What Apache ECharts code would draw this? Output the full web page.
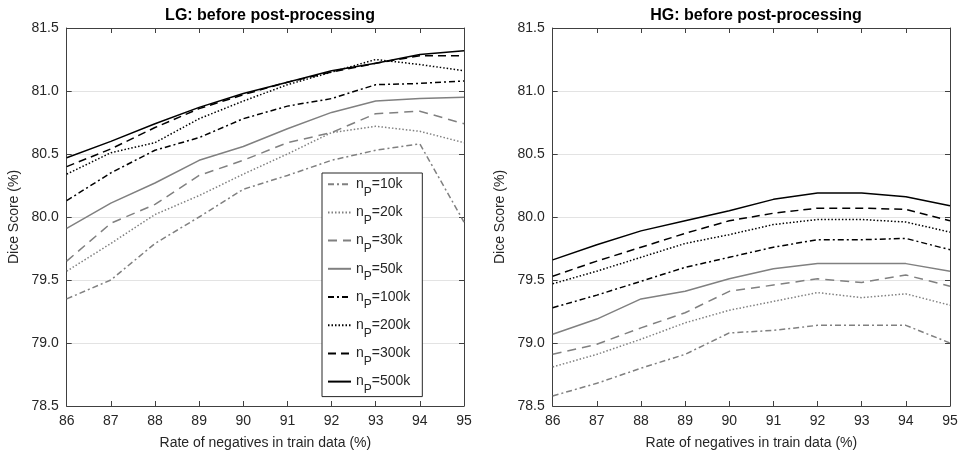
<!DOCTYPE html>
<html>
<head>
<meta charset="utf-8">
<script src="https://cdn.jsdelivr.net/npm/echarts@6/dist/echarts.min.js"></script>
<style>
html,body{margin:0;padding:0;background:#fff;}
#chart{width:967px;height:463px;}
</style>
</head>
<body>
<div id="chart"></div>
<script>
// ---- data ----
const rates = [86, 87, 88, 89, 90, 91, 92, 93, 94, 95];
const seriesNames = ['10k', '20k', '30k', '50k', '100k', '200k', '300k', '500k'];
const yTicks = [78.5, 79.0, 79.5, 80.0, 80.5, 81.0, 81.5];

const lg_10k  = [79.35, 79.50, 79.79, 80.00, 80.22, 80.33, 80.45, 80.53, 80.58, 79.96];
const lg_20k  = [79.57, 79.79, 80.02, 80.17, 80.34, 80.50, 80.67, 80.72, 80.68, 80.59];
const lg_30k  = [79.65, 79.95, 80.10, 80.33, 80.45, 80.59, 80.67, 80.82, 80.84, 80.74];
const lg_50k  = [79.91, 80.11, 80.27, 80.45, 80.56, 80.70, 80.83, 80.92, 80.94, 80.95];
const lg_100k = [80.13, 80.35, 80.53, 80.63, 80.78, 80.88, 80.94, 81.05, 81.06, 81.08];
const lg_200k = [80.34, 80.51, 80.59, 80.78, 80.92, 81.05, 81.15, 81.25, 81.21, 81.16];
const lg_300k = [80.40, 80.54, 80.71, 80.86, 80.97, 81.07, 81.15, 81.22, 81.28, 81.28];
const lg_500k = [80.47, 80.60, 80.74, 80.87, 80.98, 81.07, 81.16, 81.22, 81.29, 81.32];

const hg_10k  = [78.58, 78.68, 78.80, 78.91, 79.08, 79.10, 79.14, 79.14, 79.14, 79.00];
const hg_20k  = [78.81, 78.91, 79.03, 79.16, 79.26, 79.33, 79.40, 79.36, 79.39, 79.30];
const hg_30k  = [78.91, 78.99, 79.12, 79.24, 79.41, 79.46, 79.51, 79.48, 79.54, 79.45];
const hg_50k  = [79.07, 79.19, 79.35, 79.41, 79.51, 79.59, 79.63, 79.63, 79.63, 79.57];
const hg_100k = [79.28, 79.38, 79.49, 79.60, 79.68, 79.76, 79.82, 79.82, 79.83, 79.74];
const hg_200k = [79.47, 79.57, 79.68, 79.79, 79.86, 79.94, 79.98, 79.98, 79.96, 79.88];
const hg_300k = [79.53, 79.65, 79.76, 79.87, 79.97, 80.03, 80.07, 80.07, 80.06, 79.97];
const hg_500k = [79.66, 79.78, 79.89, 79.97, 80.05, 80.14, 80.19, 80.19, 80.16, 80.09];

const lgValues = [lg_10k, lg_20k, lg_30k, lg_50k, lg_100k, lg_200k, lg_300k, lg_500k];
const hgValues = [hg_10k, hg_20k, hg_30k, hg_50k, hg_100k, hg_200k, hg_300k, hg_500k];

// ---- styles ----
const GRAY = '#808080', BLACK = '#000000';
const styles = [
  {color: GRAY,  type: [6, 3, 2, 3]},
  {color: GRAY,  type: [1.5, 2]},
  {color: GRAY,  type: [9, 6]},
  {color: GRAY,  type: 'solid'},
  {color: BLACK, type: [6, 3, 2, 3]},
  {color: BLACK, type: [1.5, 2]},
  {color: BLACK, type: [8, 5]},
  {color: BLACK, type: 'solid'}
];

const FONT = "'Liberation Sans', Arial, Helvetica, sans-serif";
const AXC = '#404040';
const TXC = '#262626';

function xAxes(gridIndex) {
  const base = {
    type: 'value', gridIndex, min: 86, max: 95, interval: 1,
    axisLine: {show: true, onZero: false, lineStyle: {color: AXC, width: 1}},
    axisTick: {show: true, inside: true, length: 5, lineStyle: {color: AXC}},
    splitLine: {show: false}
  };
  return [
    Object.assign({}, base, {
      position: 'bottom',
      axisLabel: {show: true, color: TXC, fontSize: 14, fontFamily: FONT, margin: 8},
      name: 'Rate of negatives in train data (%)', nameLocation: 'middle', nameGap: 30,
      nameTextStyle: {color: TXC, fontSize: 14, fontFamily: FONT}
    }),
    Object.assign({}, base, {position: 'top', axisLabel: {show: false}})
  ];
}
function yAxes(gridIndex) {
  const base = {
    type: 'value', gridIndex, min: 78.5, max: 81.5, interval: 0.5,
    axisLine: {show: true, onZero: false, lineStyle: {color: AXC, width: 1}},
    axisTick: {show: true, inside: true, length: 5, lineStyle: {color: AXC}}
  };
  return [
    Object.assign({}, base, {
      position: 'left',
      splitLine: {show: true, lineStyle: {color: '#e3e3e3', width: 1}},
      axisLabel: {show: true, color: TXC, fontSize: 14, fontFamily: FONT, margin: 8,
        formatter: v => yTicks.find(t => Math.abs(t - v) < 1e-6) !== undefined ? v.toFixed(1) : ''},
      name: 'Dice Score (%)', nameLocation: 'middle', nameGap: 46, nameRotate: 90,
      nameTextStyle: {color: TXC, fontSize: 14, fontFamily: FONT}
    }),
    Object.assign({}, base, {position: 'right', splitLine: {show: false}, axisLabel: {show: false}})
  ];
}

function makeSeries(values, gi) {
  return values.map((vals, i) => ({
    name: seriesNames[i],
    type: 'line',
    xAxisIndex: gi * 2,
    yAxisIndex: gi * 2,
    data: rates.map((r, j) => [r, vals[j]]),
    symbol: 'none',
    smooth: false,
    lineStyle: {color: styles[i].color, type: styles[i].type, width: 1.5},
    itemStyle: {color: styles[i].color},
    z: 10 + i
  }));
}

const TITLE_STYLE = {fontSize: 16, fontWeight: 'bold', color: BLACK, fontFamily: FONT};

const option = {
  animation: false,
  backgroundColor: '#ffffff',
  title: [
    {text: 'LG: before post-processing', left: 265, top: 3, textAlign: 'center', textStyle: TITLE_STYLE},
    {text: 'HG: before post-processing', left: 751, top: 3, textAlign: 'center', textStyle: TITLE_STYLE}
  ],
  grid: [
    {left: 66.7, right: 503, top: 28, bottom: 57},
    {left: 552.7, right: 17, top: 28, bottom: 57}
  ],
  xAxis: [...xAxes(0), ...xAxes(1)],
  yAxis: [...yAxes(0), ...yAxes(1)],
  legend: {
    show: true,
    orient: 'vertical',
    left: 322, top: 173,
    padding: [0, 12, 1, 5],
    itemGap: 3,
    itemWidth: 23, itemHeight: 28,
    backgroundColor: '#ffffff',
    borderColor: '#262626', borderWidth: 1,
    itemStyle: {color: 'rgba(0,0,0,0)', borderColor: 'rgba(0,0,0,0)', borderWidth: 0},
    data: seriesNames,
    formatter: name => '{a|n}{s|P}{a|=' + name + '}',
    textStyle: {
      color: TXC, fontFamily: FONT, fontSize: 14,
      rich: {
        a: {fontSize: 14, fontFamily: FONT, color: TXC, lineHeight: 28, verticalAlign: 'middle'},
        s: {fontSize: 12, fontFamily: FONT, color: TXC, lineHeight: 12, verticalAlign: 'bottom'}
      }
    }
  },
  series: [...makeSeries(lgValues, 0), ...makeSeries(hgValues, 1)]
};

const chart = echarts.init(document.getElementById('chart'), null, {renderer: 'canvas'});
chart.setOption(option);
</script>
</body>
</html>
